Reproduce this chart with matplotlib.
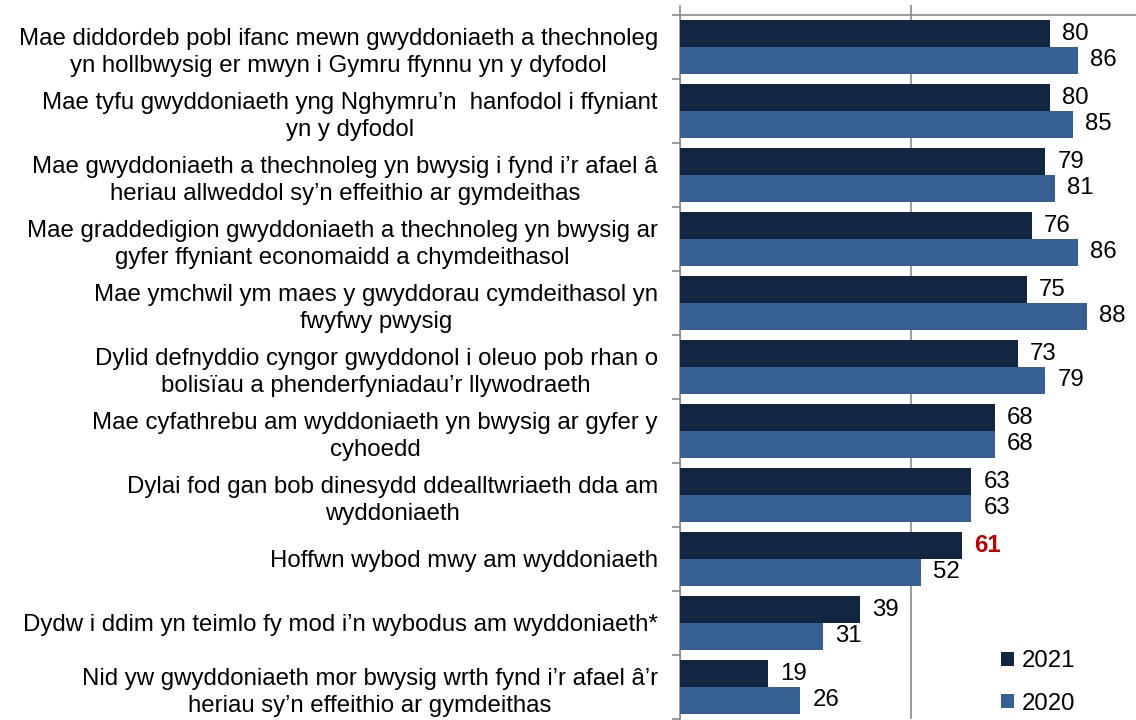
import matplotlib
matplotlib.use("Agg")
import matplotlib.pyplot as plt
import numpy as np

plt.rcParams['font.family'] = ['Liberation Sans', 'DejaVu Sans']

categories = [
    "Mae diddordeb pobl ifanc mewn gwyddoniaeth a thechnoleg\nyn hollbwysig er mwyn i Gymru ffynnu yn y dyfodol",
    "Mae tyfu gwyddoniaeth yng Nghymru’n  hanfodol i ffyniant\nyn y dyfodol",
    "Mae gwyddoniaeth a thechnoleg yn bwysig i fynd i’r afael â\nheriau allweddol sy’n effeithio ar gymdeithas",
    "Mae graddedigion gwyddoniaeth a thechnoleg yn bwysig ar\ngyfer ffyniant economaidd a chymdeithasol",
    "Mae ymchwil ym maes y gwyddorau cymdeithasol yn\nfwyfwy pwysig",
    "Dylid defnyddio cyngor gwyddonol i oleuo pob rhan o\nbolisïau a phenderfyniadau’r llywodraeth",
    "Mae cyfathrebu am wyddoniaeth yn bwysig ar gyfer y\ncyhoedd",
    "Dylai fod gan bob dinesydd ddealltwriaeth dda am\nwyddoniaeth",
    "Hoffwn wybod mwy am wyddoniaeth",
    "Dydw i ddim yn teimlo fy mod i’n wybodus am wyddoniaeth*",
    "Nid yw gwyddoniaeth mor bwysig wrth fynd i’r afael â’r\nheriau sy’n effeithio ar gymdeithas",
]
values_2021 = [80, 80, 79, 76, 75, 73, 68, 63, 61, 39, 19]
values_2020 = [86, 85, 81, 86, 88, 79, 68, 63, 52, 31, 26]
series_labels = ["2021", "2020"]
highlight_index = 8  # 2021 value shown in bold red

c2021 = "#132641"
c2020 = "#366092"
grid_c = "#8c8c8c"

fig = plt.figure(figsize=(11.36, 7.2), dpi=100)
W, H = 1136, 720
left_px, right_px = 680, 1142.5
top_px, bot_px = 15, 719
ax = fig.add_axes([left_px / W, 1 - bot_px / H, (right_px - left_px) / W, (bot_px - top_px) / H])

n = len(categories)
y = np.arange(n)
bh = 0.415
ax.barh(y - bh / 2, values_2021, height=bh, color=c2021, label=series_labels[0], zorder=3)
ax.barh(y + bh / 2, values_2020, height=bh, color=c2020, label=series_labels[1], zorder=3)

ax.set_ylim(n - 0.5, -0.5)
ax.set_xlim(0, 100)

fs = 17.3
off = 2.6
for i in range(n):
    if i == highlight_index:
        ax.text(values_2021[i] + off, y[i] - bh / 2, str(values_2021[i]), va='center', ha='left',
                fontsize=fs, color="#C00000", fontweight='bold')
    else:
        ax.text(values_2021[i] + off, y[i] - bh / 2, str(values_2021[i]), va='center', ha='left',
                fontsize=fs, color='black')
    ax.text(values_2020[i] + off, y[i] + bh / 2, str(values_2020[i]), va='center', ha='left',
            fontsize=fs, color='black')

ax.set_yticks(y)
ax.set_yticklabels(categories, fontsize=fs, linespacing=1.33)
for lab in ax.get_yticklabels():
    lab.set_multialignment('center')
ax.tick_params(axis='y', which='major', length=0, pad=16)
ax.set_yticks(np.arange(-0.5, n, 1), minor=True)
ax.tick_params(axis='y', which='minor', length=6, color=grid_c, width=1.2, direction='out')

ax.xaxis.tick_top()
ax.set_xticks([0, 50, 100])
ax.set_xticklabels([])
ax.tick_params(axis='x', length=7, color=grid_c, width=1.2, direction='out')
ax.grid(axis='x', color=grid_c, linewidth=1.2, zorder=0)

for s in ['right', 'bottom']:
    ax.spines[s].set_visible(False)
for s in ['left', 'top']:
    ax.spines[s].set_color(grid_c)
    ax.spines[s].set_linewidth(1.2)

leg = ax.legend(loc='center left', bbox_to_anchor=((1001 - left_px) / (right_px - left_px), (bot_px - 682.5) / (bot_px - top_px)),
                frameon=False, fontsize=fs, handlelength=0.55, handleheight=0.55,
                labelspacing=0.85, handletextpad=0.3, borderpad=0, borderaxespad=0)

fig.savefig("out.png", dpi=100)
